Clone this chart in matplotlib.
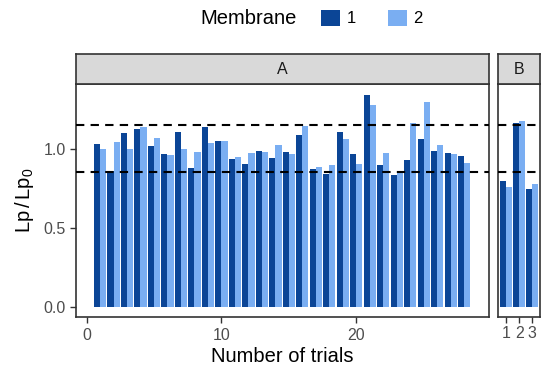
import numpy as np
import matplotlib
matplotlib.use("Agg")
import matplotlib.pyplot as plt
from matplotlib.patches import Patch

plt.rcParams['font.family'] = ['Liberation Sans', 'DejaVu Sans']
plt.rcParams['mathtext.fontset'] = 'custom'
plt.rcParams['mathtext.rm'] = 'Liberation Sans'
plt.rcParams['mathtext.it'] = 'Liberation Sans:italic'

# panel A: 28 trials, two membranes
trials_a = np.arange(1, 29)
mem1_a = [1.030, 0.859, 1.101, 1.127, 1.017, 0.965, 1.106, 0.876, 1.139, 1.049,
          0.933, 0.901, 0.985, 0.939, 0.979, 1.089, 0.872, 0.838, 1.104, 0.965,
          1.340, 0.895, 0.834, 0.928, 1.059, 0.984, 0.973, 0.956]
mem2_a = [0.998, 1.042, 0.998, 1.135, 1.066, 0.962, 0.998, 0.979, 1.036, 1.049,
          0.949, 0.975, 0.979, 1.023, 0.968, 1.142, 0.882, 0.897, 1.063, 0.901,
          1.277, 0.975, 0.859, 1.161, 1.294, 1.022, 0.966, 0.909]

# panel B: 3 trials
trials_b = np.arange(1, 4)
mem1_b = [0.796, 1.165, 0.745]
mem2_b = [0.756, 1.173, 0.777]

limits = [0.85, 1.15]
dark = '#0B4596'
light = '#7AAEF2'

fig = plt.figure(figsize=(5.5, 3.75), dpi=100)

bottom, height = 0.1539, 0.622
strip_h = 0.08
ax_a = fig.add_axes([76 / 550, bottom, 413.3 / 550, height])
ax_b = fig.add_axes([498.3 / 550, bottom, 41.7 / 550, height])

w = 0.45
for ax, x, m1, m2, lab, xlim, xt in [
        (ax_a, trials_a, mem1_a, mem2_a, 'A', (-0.78, 29.85), [0, 10, 20]),
        (ax_b, trials_b, mem1_b, mem2_b, 'B', (0.405, 3.595), [1, 2, 3])]:
    ax.bar(x - w / 2, m1, width=w, color=dark, zorder=2)
    ax.bar(x + w / 2, m2, width=w, color=light, zorder=2)
    for lv in limits:
        ax.axhline(lv, color='black', lw=1.5, ls=(0, (4, 3)), zorder=3)
    ax.set_xlim(*xlim)
    ax.set_ylim(-0.067, 1.409)
    ax.set_xticks(xt)
    ax.set_yticks([0.0, 0.5, 1.0])
    ax.tick_params(colors='#333333', labelcolor='#4D4D4D', labelsize=11.5,
                   length=4, width=1)
    for s in ax.spines.values():
        s.set_color('#333333')
        s.set_linewidth(1.2)
    pos = ax.get_position()
    sax = fig.add_axes([pos.x0, pos.y1, pos.width, strip_h])
    sax.set_facecolor('#D9D9D9')
    sax.set_xticks([])
    sax.set_yticks([])
    for s in sax.spines.values():
        s.set_color('#333333')
        s.set_linewidth(1.2)
    sax.text(0.5, 0.5, lab, ha='center', va='center', fontsize=11.5,
             color='#1A1A1A', transform=sax.transAxes)

ax_a.set_yticklabels(['0.0', '0.5', '1.0'])
ax_b.set_yticklabels([])
ax_b.tick_params(axis='y', length=0)
ax_b.tick_params(axis='x', pad=2)

ax_a.set_ylabel(r'$\mathrm{Lp\,/\,Lp_0}$', fontsize=14.5, labelpad=5)
fig.text((76 + 489.3) / 2 / 550, 0.025, 'Number of trials', ha='center',
         va='bottom', fontsize=14.5)

fig.text(249 / 550, 1 - 18 / 375, 'Membrane', ha='center', va='center',
         fontsize=14.5)
handles = [Patch(facecolor=dark, label='1'), Patch(facecolor=light, label='2')]
fig.legend(handles=handles, ncol=2, loc='center left',
           bbox_to_anchor=(306 / 550, 1 - 18 / 375), frameon=False,
           fontsize=12, handlelength=1.15, handleheight=1.15,
           handletextpad=0.4, columnspacing=1.9)

fig.savefig('out.png', dpi=100)
